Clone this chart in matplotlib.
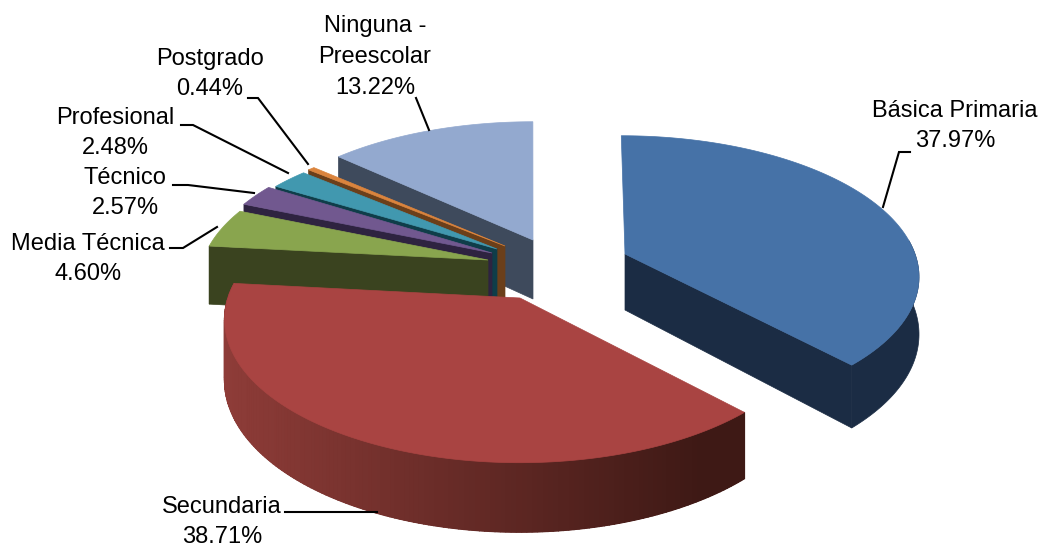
import numpy as np
import matplotlib
matplotlib.use('Agg')
import matplotlib.pyplot as plt
from matplotlib.patches import Polygon

plt.rcParams['font.family'] = ['Liberation Sans', 'DejaVu Sans']

# datos, sentido horario desde arriba
nombres = ['Básica Primaria', 'Secundaria', 'Media Técnica', 'Técnico',
           'Profesional', 'Postgrado', 'Ninguna -\nPreescolar']
valores = [37.97, 38.71, 4.60, 2.57, 2.48, 0.44, 13.22]
etiquetas = ['37.97%', '38.71%', '4.60%', '2.57%', '2.48%', '0.44%', '13.22%']

colores = ['#4672A7', '#A94442', '#89A54E', '#71588F', '#4198AF', '#DB843D', '#93A9CF']
oscuros = ['#1B2C44', '#6E2B29', '#3A431F', '#2E2340', '#0F3D49', '#6B3F1A', '#3E4A5C']

# vertice de cada porcion (separadas), radios en pixeles
apex = [(625, 254), (520, 298), (488, 260), (492, 253), (497, 249), (505, 246), (533, 240)]
radio_x = [290, 292, 285, 285, 282, 286, 290]
radio_y = [136, 140, 134, 134, 128, 128, 136]
prof = [56, 59, 59, 59, 59, 59, 59]
PERSP = 0.15

# posicion de textos (centro)
pos_texto = [(955, 126), (222, 522), (88, 259), (125, 193), (115, 133), (210, 74), (375, 57)]
guias = [
    [(910, 152), (899, 152), (883, 207)],
    [(285, 512), (377, 512)],
    [(170, 248), (183, 248), (217, 227)],
    [(173, 185), (188, 185), (254, 193)],
    [(181, 125), (193, 125), (288, 173)],
    [(248, 98), (258, 98), (308, 164)],
    [(416, 98), (429, 130)],
]


def punto(t, i):
    # proyeccion de un angulo (grados) sobre la cara superior
    X, Y = np.cos(np.radians(t)), np.sin(np.radians(t))
    s = 1 / (1 + PERSP * Y)
    ax0, ay0 = apex[i]
    x = ax0 + radio_x[i] * X * s + (ax0 - 530) * (s - 1) * 0.3
    y = ay0 - radio_y[i] * Y * s
    return x, y, s


def color_rojo(x):
    # degradado del borde de Secundaria
    f = np.clip((x - 225) / (700 - 225), 0, 1)
    a = np.array([142, 60, 56]) / 255
    b = np.array([62, 25, 21]) / 255
    return tuple(a + (b - a) * f)


fig = plt.figure(figsize=(10.39, 5.49), dpi=100)
ax = fig.add_axes([0, 0, 1, 1])
ax.set_xlim(0, 1039)
ax.set_ylim(549, 0)
ax.axis('off')

total = sum(valores)
fin = 90 - np.cumsum(valores) / total * 360
ini = np.r_[90, fin[:-1]]

# de atras hacia adelante
orden = [6, 5, 4, 3, 2, 1, 0]
for z, i in enumerate(orden):
    ts = np.linspace(ini[i], fin[i], 160)
    ax0, ay0 = apex[i]
    base = 10 + z * 5
    d = prof[i]

    # caras radiales visibles
    for t, vis in ((ini[i], np.cos(np.radians(ini[i])) < -1e-6),
                   (fin[i], np.cos(np.radians(fin[i])) > 1e-6)):
        if vis:
            x, y, s = punto(t, i)
            cara = [(ax0, ay0), (x, y), (x, y + d * s), (ax0, ay0 + d)]
            ax.add_patch(Polygon(cara, closed=True, fc=oscuros[i], ec=oscuros[i], lw=0.5, zorder=base))

    # borde exterior: una sola pieza, y Secundaria con degradado encima
    vis = ts[np.sin(np.radians(ts)) <= 0.11]
    if len(vis) > 1:
        xs, ys, ss = punto(vis, i)
        rim = np.column_stack([np.r_[xs, xs[::-1]], np.r_[ys, (ys + d * ss)[::-1]]])
        ax.add_patch(Polygon(rim, closed=True, fc=oscuros[i], ec=oscuros[i], lw=0.5, zorder=base + 1))
        if i == 1:
            for k in range(len(vis) - 1):
                c = color_rojo((xs[k] + xs[k + 1]) / 2)
                quad = [(xs[k], ys[k]), (xs[k + 1], ys[k + 1]),
                        (xs[k + 1], ys[k + 1] + d * ss[k + 1]), (xs[k], ys[k] + d * ss[k])]
                ax.add_patch(Polygon(quad, closed=True, fc=c, ec=c, lw=1.0, zorder=base + 1))

    # cara superior
    xs, ys, _ = punto(ts, i)
    sup = np.column_stack([np.r_[ax0, xs], np.r_[ay0, ys]])
    ax.add_patch(Polygon(sup, closed=True, fc=colores[i], ec=colores[i], lw=0.5, zorder=base + 2))

# etiquetas y lineas guia
for i in range(len(valores)):
    tx, ty = pos_texto[i]
    ax.text(tx, ty, nombres[i] + '\n' + etiquetas[i], ha='center', va='center',
            multialignment='center', fontsize=17, color='black', linespacing=1.52, zorder=60)
    g = np.array(guias[i])
    ax.plot(g[:, 0], g[:, 1], color='black', lw=1.5, zorder=50, solid_joinstyle='miter')

fig.savefig('out.png', dpi=100)
